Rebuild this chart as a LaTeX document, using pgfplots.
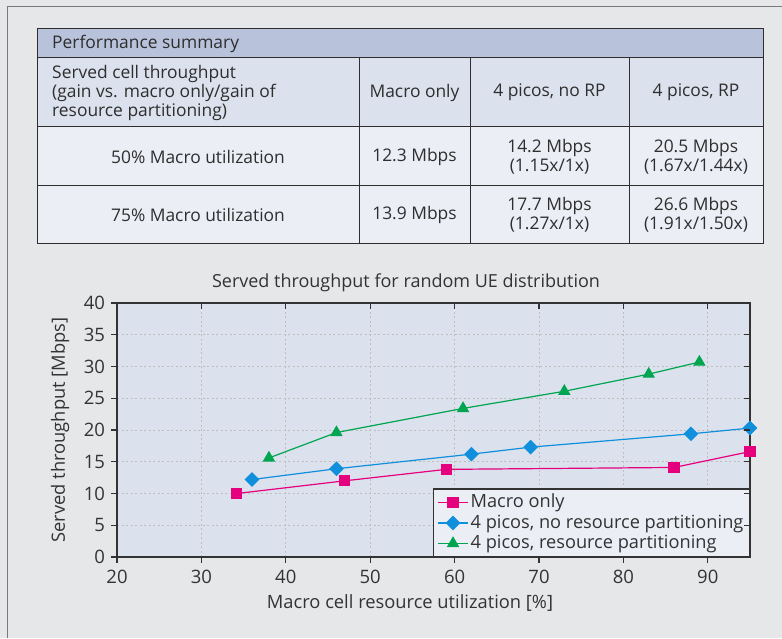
\documentclass[border=0pt]{standalone}
\usepackage{pgfplots}
\pgfplotsset{compat=1.18}
\usepackage{fontspec}
\setmainfont{Open Sans}
\definecolor{outerbg}{HTML}{E6E7E9}
\definecolor{framegray}{HTML}{7A7A7A}
\definecolor{hdrrow}{HTML}{B8C3DB}
\definecolor{colrow}{HTML}{DCE1EE}
\definecolor{datarow}{HTML}{ECEEF6}
\definecolor{tableline}{HTML}{2E2E2E}
\definecolor{axisbg}{HTML}{DCE1EE}
\definecolor{legendbg}{HTML}{ECEEF6}
\definecolor{axisdark}{HTML}{333333}
\definecolor{gridgray}{HTML}{BEBEBE}
\definecolor{cmag}{HTML}{E5007D}
\definecolor{cblue}{HTML}{0F8FDC}
\definecolor{cgreen}{HTML}{00A550}
\begin{document}
\fontsize{17.4}{19}\selectfont
\begin{tikzpicture}[x=1pt,y=1pt]
\fill[outerbg] (0,0) rectangle (782,638);
\draw[framegray, line width=1pt] (7,0) -- (7,631) -- (782,631);
% table
\fill[hdrrow] (37,580) rectangle (763,609);
\fill[colrow] (37,511) rectangle (763,580);
\fill[datarow] (37,394) rectangle (763,511);
\draw[tableline, line width=1pt] (37,394) rectangle (763,609);
\draw[tableline, line width=1pt] (37,580) -- (763,580) (37,511) -- (763,511) (37,452) -- (763,452);
\draw[tableline, line width=1pt] (359,394) -- (359,580) (470,394) -- (470,580) (629,394) -- (629,580);
\node[anchor=west, inner sep=0pt, text=tableline] at (52,594) {Performance summary};
\node[anchor=west, inner sep=0pt, align=left, text=tableline] at (52,545.5) {Served cell throughput\\(gain vs. macro only/gain of\\resource partitioning)};
\node[inner sep=0pt, text=tableline] at (414.5,545.5) {Macro only};
\node[inner sep=0pt, text=tableline] at (549.5,545.5) {4 picos, no RP};
\node[inner sep=0pt, text=tableline] at (696,545.5) {4 picos, RP};
\node[inner sep=0pt, text=tableline] at (198,481.5) {50\% Macro utilization};
\node[inner sep=0pt, text=tableline] at (414.5,481.5) {12.3 Mbps};
\node[inner sep=0pt, align=center, text=tableline] at (549.5,481.5) {14.2 Mbps\\(1.15x/1x)};
\node[inner sep=0pt, align=center, text=tableline] at (696,481.5) {20.5 Mbps\\(1.67x/1.44x)};
\node[inner sep=0pt, text=tableline] at (198,423) {75\% Macro utilization};
\node[inner sep=0pt, text=tableline] at (414.5,423) {13.9 Mbps};
\node[inner sep=0pt, align=center, text=tableline] at (549.5,423) {17.7 Mbps\\(1.27x/1x)};
\node[inner sep=0pt, align=center, text=tableline] at (696,423) {26.6 Mbps\\(1.91x/1.50x)};
% plot
\begin{axis}[
  at={(117pt,81pt)}, anchor=south west,
  width=633pt, height=254pt, scale only axis,
  xmin=20, xmax=95, ymin=0, ymax=40,
  xtick={20,30,...,90}, ytick={0,5,...,40},
  tick pos=left, tick align=outside,
  major tick length=6pt,
  tick style={axisdark, line width=1.2pt},
  axis line style={axisdark, line width=1.4pt},
  axis background/.style={fill=axisbg},
  grid=major,
  major grid style={gridgray, dash pattern=on 2pt off 2.5pt, line width=0.9pt},
  /pgf/number format/assume math mode=true,
  tick label style={font=\fontsize{18.5}{20}\selectfont, text=axisdark},
  xticklabel style={yshift=-1pt},
  legend style={at={(1,0)}, anchor=south east, fill=legendbg, draw=axisdark, line width=1.2pt,
     font=\fontsize{18.2}{19}\selectfont, text=axisdark, inner xsep=4pt, inner ysep=3pt, row sep=0.5pt},
  legend cell align=left,
  legend image code/.code={\draw[mark repeat=2,mark phase=2] plot coordinates {(0pt,0pt) (15pt,0pt) (30pt,0pt)};},
]
\addplot[cmag, line width=1.2pt, mark=square*, mark size=5pt, mark options={solid}] coordinates {
(34.2,10) (47,12) (59,13.8) (86,14.1) (95,16.6)};
\addlegendentry{Macro only}
\addplot[cblue, line width=1.2pt, mark=square*, mark size=4.6pt, mark options={solid, rotate=45}] coordinates {
(36,12.2) (46,13.9) (62,16.2) (69,17.3) (88,19.4) (95,20.3)};
\addlegendentry{4 picos, no resource partitioning}
\addplot[cgreen, line width=1.2pt, mark=triangle*, mark size=6pt, mark options={solid}] coordinates {
(38,15.6) (46,19.6) (61,23.4) (73,26.1) (83,28.8) (89,30.7)};
\addlegendentry{4 picos, resource partitioning}
\end{axis}
\begin{axis}[
  at={(117pt,81pt)}, anchor=south west,
  width=633pt, height=254pt, scale only axis,
  xmin=20, xmax=95, ymin=0, ymax=40,
  xtick={20,30,...,90}, ytick={0,5,...,40},
  xticklabels={}, yticklabels={},
  xtick pos=right, ytick pos=right, tick align=inside,
  major tick length=6pt,
  tick style={axisdark, line width=1.2pt},
  axis line style={draw=none},
]
\end{axis}
\node[text=axisdark, font=\fontsize{18}{20}\selectfont] at (406,355) {Served throughput for random UE distribution};
\node[text=axisdark, rotate=90, font=\fontsize{18.3}{20}\selectfont] at (60,208) {Served throughput [Mbps]};
\node[text=axisdark, font=\fontsize{18.3}{20}\selectfont] at (410,35) {Macro cell resource utilization [\%]};
\pgfresetboundingbox
\useasboundingbox (0,0) rectangle (782,638);
\end{tikzpicture}
\end{document}
